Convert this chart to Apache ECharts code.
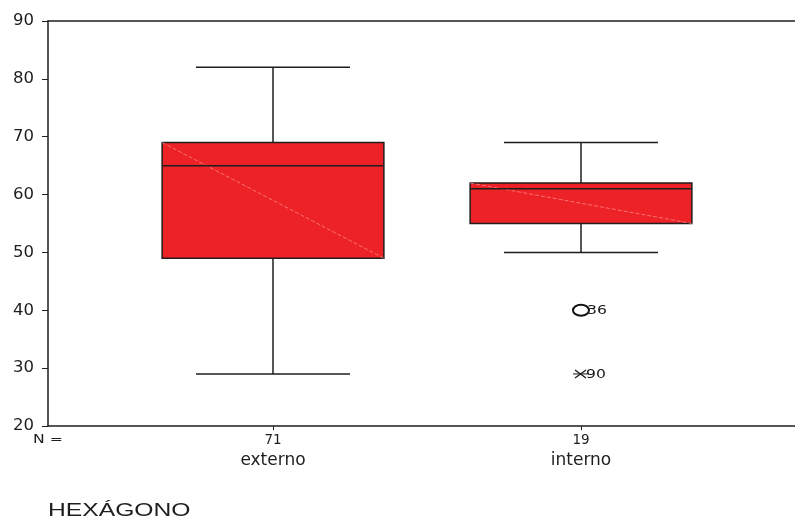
<!DOCTYPE html>
<html><head><meta charset="utf-8">
<script src="https://cdn.jsdelivr.net/npm/echarts@6/dist/echarts.min.js"></script>
<style>html,body{margin:0;padding:0;background:#fff}#c{width:795px;height:520px}</style>
</head><body><div id="c"></div>
<script>
const categories = ['externo', 'interno'];
const counts = [71, 19];
const whiskerLow = [29, 50];
const q1 = [49, 55];
const medians = [65, 61];
const q3 = [69, 62];
const whiskerHigh = [82, 69];
const outlierGroup = [2, 2];
const outlierValues = [40, 29];
const outlierCases = ['36', '90'];
const outlierKinds = ['outlier', 'extreme'];
const axisTitle = 'HEXÁGONO';

const boxData = categories.map((c, i) => [i + 1, whiskerLow[i], q1[i], medians[i], q3[i], whiskerHigh[i]]);
const outData = outlierValues.map((v, i) => [outlierGroup[i], v, i]);

const ink = '#1e1e1e';
const FONT = '"DejaVu Sans", sans-serif';
const xMin = 0.2695, xMax = 2.6948;

const chart = echarts.init(document.getElementById('c'), null, {renderer: 'canvas'});
chart.setOption({
  animation: false,
  backgroundColor: '#fff',
  grid: {left: 48, right: 0, top: 21, bottom: 94},
  xAxis: [{
    type: 'value', min: xMin, max: xMax, position: 'bottom',
    axisLine: {show: true, onZero: false, lineStyle: {color: ink, width: 1.5}},
    axisTick: {show: true, customValues: [1, 2], length: 4, lineStyle: {color: ink, width: 1}},
    axisLabel: {
      customValues: [1, 2], margin: 6,
      formatter: v => '{n|' + counts[v - 1] + '}\n{c|' + categories[v - 1] + '}',
      rich: {
        n: {fontFamily: FONT, fontSize: 13.5, color: ink, lineHeight: 16},
        c: {fontFamily: FONT, fontSize: 17, color: ink, lineHeight: 26}
      }
    },
    splitLine: {show: false}
  }, {
    type: 'value', min: xMin, max: xMax, position: 'top',
    axisLine: {show: true, onZero: false, lineStyle: {color: ink, width: 1.5}},
    axisTick: {show: false}, axisLabel: {show: false}, splitLine: {show: false}
  }],
  yAxis: {
    type: 'value', min: 20, max: 90, interval: 10,
    axisLine: {show: true, lineStyle: {color: ink, width: 1.5}},
    axisTick: {show: true, length: 6, lineStyle: {color: ink, width: 1}},
    axisLabel: {fontFamily: FONT, fontSize: 16.5, color: ink, margin: 14},
    splitLine: {show: false}
  },
  graphic: [
    {type: 'text', x: 33, y: 440, scaleX: 1.25, style: {text: 'N =', font: '12.5px ' + FONT, fill: ink, verticalAlign: 'middle'}},
    {type: 'text', x: 48, y: 511, scaleX: 1.37, style: {text: axisTitle, font: '18px "Liberation Sans", Arial, sans-serif', fill: ink, verticalAlign: 'middle'}}
  ],
  series: [{
    type: 'custom',
    data: boxData,
    encode: {x: 0, y: [1, 2, 3, 4, 5]},
    renderItem: function (params, api) {
      const x = api.value(0);
      const hb = 0.36, hc = 0.25;
      const P = (dx, v) => api.coord([x + dx, v]);
      const lo = P(0, api.value(1)), a = P(-hb, api.value(4)), b = P(hb, api.value(2));
      const med = api.value(3);
      const ml = P(-hb, med), mr = P(hb, med);
      const top = P(0, api.value(5));
      const cl = P(-hc, api.value(5)), cr = P(hc, api.value(5));
      const dl = P(-hc, api.value(1)), dr = P(hc, api.value(1));
      const q3p = P(0, api.value(4)), q1p = P(0, api.value(2));
      const st = {stroke: ink, lineWidth: 1.5};
      return {type: 'group', children: [
        {type: 'line', shape: {x1: top[0], y1: top[1], x2: q3p[0], y2: q3p[1]}, style: st},
        {type: 'line', shape: {x1: q1p[0], y1: q1p[1], x2: lo[0], y2: lo[1]}, style: st},
        {type: 'line', shape: {x1: cl[0], y1: cl[1], x2: cr[0], y2: cr[1]}, style: st},
        {type: 'line', shape: {x1: dl[0], y1: dl[1], x2: dr[0], y2: dr[1]}, style: st},
        {type: 'rect', shape: {x: a[0], y: a[1], width: b[0] - a[0], height: b[1] - a[1]}, style: {fill: '#ED2227', stroke: ink, lineWidth: 1.5}},
        {type: 'line', shape: {x1: a[0], y1: a[1], x2: b[0], y2: b[1]}, style: {stroke: 'rgba(255,150,150,0.85)', lineWidth: 0.8, lineDash: [4, 2]}},
        {type: 'line', shape: {x1: ml[0], y1: ml[1], x2: mr[0], y2: mr[1]}, style: st}
      ]};
    }
  }, {
    type: 'custom',
    data: outData,
    encode: {x: 0, y: 1},
    renderItem: function (params, api) {
      const p = api.coord([api.value(0), api.value(1)]);
      const idx = api.value(2);
      const kids = [];
      if (outlierKinds[idx] === 'outlier') {
        kids.push({type: 'ellipse', shape: {cx: p[0], cy: p[1], rx: 8, ry: 5.5}, style: {fill: 'rgba(0,0,0,0)', stroke: '#111', lineWidth: 2}});
        kids.push({type: 'text', x: p[0] + 6, y: p[1] + 0.5, scaleX: 1.2, style: {text: outlierCases[idx], font: '13px ' + FONT, fill: '#1a1a1a', verticalAlign: 'middle'}});
      } else {
        kids.push({type: 'line', shape: {x1: p[0] - 6, y1: p[1] - 4, x2: p[0] + 5, y2: p[1] + 4}, style: {stroke: '#1a1a1a', lineWidth: 1.2}});
        kids.push({type: 'line', shape: {x1: p[0] - 6, y1: p[1] + 4, x2: p[0] + 5, y2: p[1] - 4}, style: {stroke: '#1a1a1a', lineWidth: 1.2}});
        kids.push({type: 'line', shape: {x1: p[0] - 8, y1: p[1], x2: p[0] + 8, y2: p[1]}, style: {stroke: '#1a1a1a', lineWidth: 1}});
        kids.push({type: 'text', x: p[0] + 5, y: p[1] + 0.5, scaleX: 1.2, style: {text: outlierCases[idx], font: '13px ' + FONT, fill: '#1a1a1a', verticalAlign: 'middle'}});
      }
      return {type: 'group', children: kids};
    }
  }]
});
</script></body></html>
